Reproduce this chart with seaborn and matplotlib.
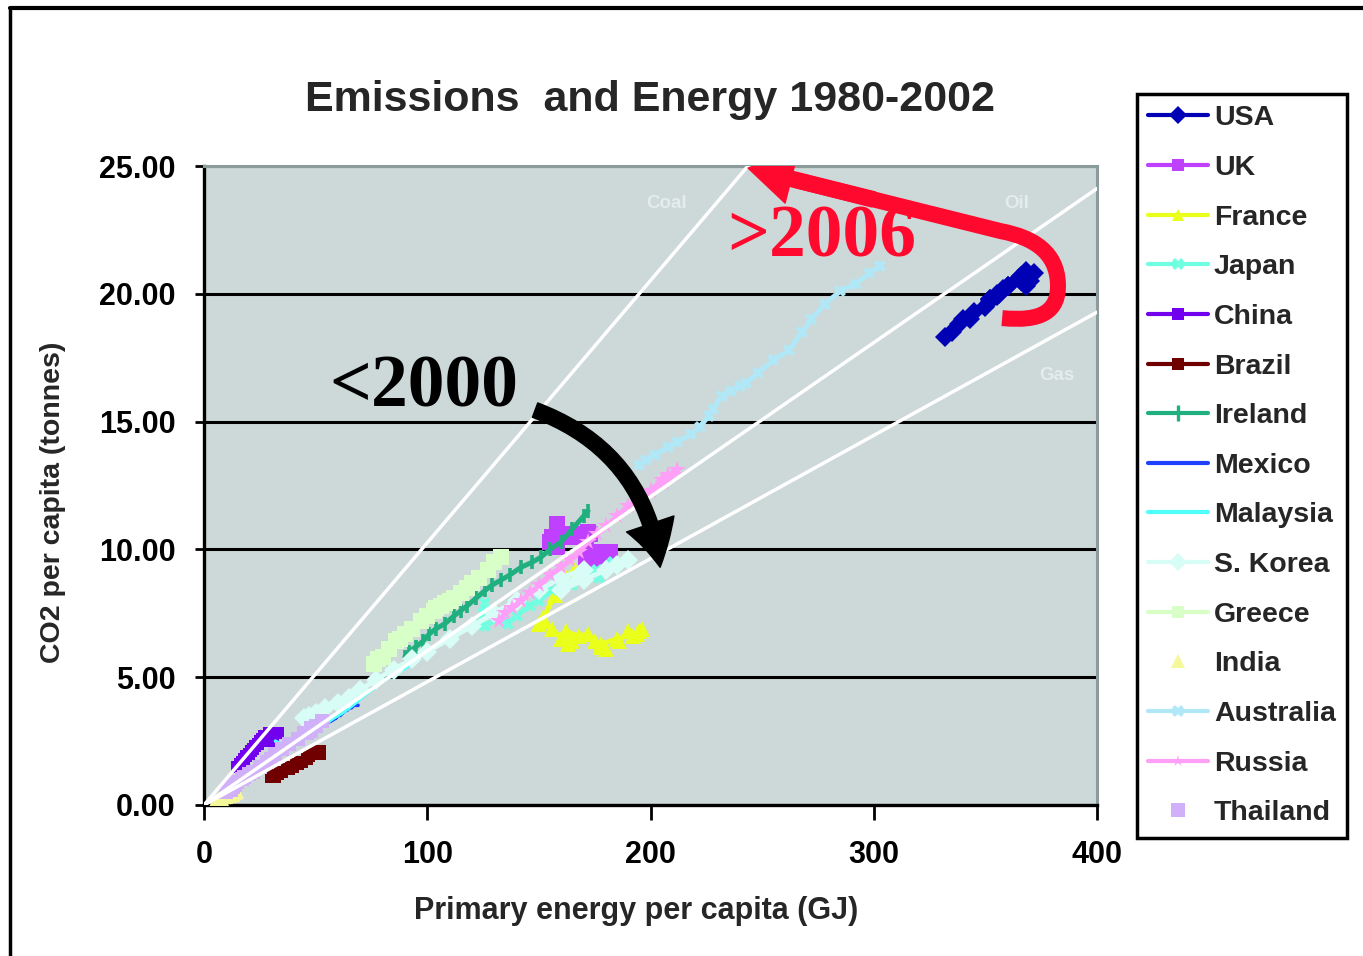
import matplotlib
matplotlib.use("Agg")
import matplotlib.pyplot as plt
import seaborn as sns
from matplotlib.patches import FancyArrowPatch, PathPatch
from matplotlib.path import Path
from matplotlib.lines import Line2D

# ---------------- data ----------------
countries = ["USA", "UK", "France", "Japan", "China", "Brazil", "Ireland", "Mexico",
             "Malaysia", "S. Korea", "Greece", "India", "Australia", "Russia", "Thailand"]

usa_x = [360, 352, 343, 335, 332, 338, 340, 345, 352, 356, 355, 350, 352, 355, 358, 360, 366, 368, 365, 366, 372, 368, 370]
usa_y = [20.3, 19.7, 19.0, 18.5, 18.3, 18.8, 19.0, 19.3, 19.8, 20.0, 19.9, 19.5, 19.8, 20.0, 20.2, 20.3, 20.7, 20.9, 20.6, 20.5, 20.8, 20.3, 20.5]

uk_x = [158, 156, 155, 157, 158, 163, 165, 166, 168, 170, 172, 173, 171, 172, 172, 171, 176, 174, 176, 178, 180, 182, 178]
uk_y = [11.0, 10.5, 10.3, 10.2, 10.1, 10.5, 10.6, 10.6, 10.5, 10.6, 10.7, 10.6, 10.2, 9.9, 9.8, 9.7, 9.9, 9.6, 9.7, 9.6, 9.8, 9.9, 9.5]

france_x = [166, 162, 157, 152, 150, 156, 160, 163, 165, 162, 168, 172, 175, 178, 180, 178, 185, 186, 190, 192, 194, 196, 195]
france_y = [9.2, 8.9, 8.2, 7.3, 7.1, 6.9, 6.5, 6.3, 6.4, 6.8, 6.6, 6.7, 6.4, 6.2, 6.1, 6.3, 6.5, 6.4, 6.8, 6.6, 6.7, 6.9, 6.8]

japan_x = [126, 125, 124, 126, 132, 135, 136, 140, 146, 150, 156, 160, 163, 165, 170, 173, 176, 178, 177, 179, 182, 184, 183]
japan_y = [7.9, 7.5, 7.1, 7.0, 7.3, 7.2, 7.1, 7.4, 7.8, 8.0, 8.4, 8.6, 8.7, 8.6, 9.0, 9.1, 9.2, 9.1, 8.9, 9.2, 9.4, 9.3, 9.5]

china_x = [15, 15, 16, 17, 18, 19, 20, 21, 22, 23, 23, 24, 25, 26, 27, 29, 30, 31, 30, 29, 30, 31, 33]
china_y = [1.5, 1.5, 1.6, 1.7, 1.8, 1.9, 2.0, 2.1, 2.2, 2.3, 2.3, 2.4, 2.5, 2.6, 2.7, 2.8, 2.8, 2.7, 2.6, 2.5, 2.6, 2.7, 2.8]

brazil_x = [31, 30, 30, 32, 33, 35, 37, 38, 39, 40, 40, 41, 42, 43, 44, 46, 47, 48, 49, 50, 51, 52, 52]
brazil_y = [1.3, 1.2, 1.1, 1.1, 1.2, 1.3, 1.4, 1.4, 1.5, 1.5, 1.5, 1.6, 1.6, 1.7, 1.7, 1.8, 1.9, 2.0, 2.0, 2.1, 2.1, 2.1, 2.0]

ireland_x = [90, 92, 95, 98, 101, 104, 108, 112, 115, 118, 122, 126, 129, 133, 137, 142, 147, 151, 155, 160, 165, 170, 172]
ireland_y = [5.8, 6.0, 6.2, 6.4, 6.7, 6.9, 7.1, 7.4, 7.6, 7.8, 8.1, 8.4, 8.6, 8.8, 9.0, 9.3, 9.5, 9.7, 10.0, 10.3, 10.8, 11.3, 11.5]

mexico_x = [55, 57, 59, 58, 57, 58, 57, 58, 59, 60, 61, 62, 62, 62, 63, 62, 63, 64, 65, 66, 67, 68, 69]
mexico_y = [3.2, 3.3, 3.4, 3.4, 3.3, 3.4, 3.3, 3.4, 3.4, 3.5, 3.5, 3.6, 3.6, 3.6, 3.7, 3.6, 3.7, 3.7, 3.8, 3.8, 3.9, 3.9, 3.9]

malaysia_x = [32, 34, 35, 37, 40, 43, 46, 49, 52, 55, 58, 62, 65, 68, 72, 75, 78, 81, 83, 86, 89, 91, 93]
malaysia_y = [2.5, 2.4, 2.2, 2.3, 2.5, 2.7, 2.9, 3.0, 3.1, 3.2, 3.4, 3.6, 3.8, 4.0, 4.3, 4.5, 4.7, 4.9, 5.0, 5.1, 5.3, 5.4, 5.5]

korea_x = [45, 47, 50, 54, 60, 65, 70, 77, 85, 93, 100, 110, 120, 130, 140, 150, 160, 170, 160, 170, 180, 185, 190]
korea_y = [3.4, 3.5, 3.6, 3.8, 4.0, 4.2, 4.5, 4.9, 5.3, 5.7, 6.0, 6.5, 7.0, 7.5, 8.0, 8.4, 8.9, 9.2, 8.4, 8.8, 9.2, 9.4, 9.6]

greece_x = [76, 78, 80, 83, 86, 88, 90, 93, 97, 100, 103, 104, 106, 108, 110, 112, 115, 118, 120, 123, 127, 130, 133]
greece_y = [5.5, 5.7, 5.8, 6.1, 6.4, 6.5, 6.7, 6.9, 7.2, 7.4, 7.6, 7.7, 7.8, 7.9, 8.0, 8.1, 8.3, 8.5, 8.7, 8.9, 9.2, 9.5, 9.7]

india_x = [5, 6, 6, 7, 7, 8, 8, 9, 9, 10, 10, 11, 11, 11, 12, 12, 13, 13, 13, 14, 14, 14, 15]
india_y = [0.2, 0.2, 0.2, 0.25, 0.25, 0.25, 0.3, 0.3, 0.3, 0.3, 0.35, 0.35, 0.35, 0.35, 0.4, 0.4, 0.4, 0.4, 0.4, 0.45, 0.45, 0.45, 0.5]

australia_x = [195, 198, 202, 208, 212, 218, 222, 226, 228, 232, 236, 240, 243, 248, 255, 262, 268, 272, 278, 285, 292, 298, 303]
australia_y = [13.3, 13.5, 13.7, 14.0, 14.2, 14.5, 14.8, 15.2, 15.5, 16.0, 16.2, 16.4, 16.5, 16.9, 17.4, 17.8, 18.5, 19.0, 19.6, 20.1, 20.4, 20.8, 21.1]

russia_x = [132, 135, 138, 142, 146, 150, 155, 160, 164, 168, 172, 176, 180, 185, 190, 195, 200, 205, 208, 212, 210, 206, 200]
russia_y = [7.2, 7.5, 7.7, 8.0, 8.3, 8.6, 9.0, 9.3, 9.6, 9.9, 10.3, 10.6, 10.9, 11.3, 11.7, 12.0, 12.3, 12.7, 12.9, 13.1, 12.9, 12.6, 12.3]

thailand_x = [10, 12, 13, 14, 15, 17, 18, 20, 22, 25, 28, 30, 32, 35, 38, 42, 45, 48, 46, 46, 48, 50, 53]
thailand_y = [0.5, 0.6, 0.7, 0.8, 0.9, 1.0, 1.1, 1.2, 1.3, 1.5, 1.7, 1.8, 2.0, 2.2, 2.4, 2.6, 2.8, 3.0, 2.8, 2.8, 2.9, 3.1, 3.3]

# reference emission-intensity lines (t CO2 per GJ)
fuel_names = ["Coal", "Oil", "Gas"]
fuel_slopes = [0.1026, 0.0603, 0.0482]
fuel_x = [0, 400]

x_ticks = [0, 100, 200, 300, 400]
y_ticks = [0, 5, 10, 15, 20, 25]

# ---------------- styles ----------------
series = {
    "USA": (usa_x, usa_y), "UK": (uk_x, uk_y), "France": (france_x, france_y),
    "Japan": (japan_x, japan_y), "China": (china_x, china_y), "Brazil": (brazil_x, brazil_y),
    "Ireland": (ireland_x, ireland_y), "Mexico": (mexico_x, mexico_y),
    "Malaysia": (malaysia_x, malaysia_y), "S. Korea": (korea_x, korea_y),
    "Greece": (greece_x, greece_y), "India": (india_x, india_y),
    "Australia": (australia_x, australia_y), "Russia": (russia_x, russia_y),
    "Thailand": (thailand_x, thailand_y),
}
colors = {
    "USA": "#0000b4", "UK": "#c040ff", "France": "#eaff1a", "Japan": "#70ffe0",
    "China": "#7000ee", "Brazil": "#700000", "Ireland": "#20b080", "Mexico": "#2040ff",
    "Malaysia": "#50ffff", "S. Korea": "#d8fcf6", "Greece": "#d8ffc8", "India": "#f5f898",
    "Australia": "#b0e8f8", "Russia": "#ffa0f8", "Thailand": "#d0b0f8",
}
markers = {
    "USA": "D", "UK": "s", "France": "^", "Japan": "X", "China": "s", "Brazil": "s",
    "Ireland": "|", "Mexico": None, "Malaysia": None, "S. Korea": "D", "Greece": "s",
    "India": "^", "Australia": "X", "Russia": "*", "Thailand": "s",
}
marker_sizes = {"UK": 12, "France": 11, "Greece": 12, "Russia": 13, "S. Korea": 10,
                "USA": 10}
marker_only = {"India", "Thailand"}
thin = {"Mexico", "Malaysia"}

sns.set_style("white")
plt.rcParams["font.family"] = ["Liberation Sans", "DejaVu Sans"]
plt.rcParams["font.weight"] = "bold"

W, H = 1363, 956
fig = plt.figure(figsize=(W / 100, H / 100), dpi=100)
fig.patch.set_facecolor("white")
ax = fig.add_axes([204 / W, 1 - 805 / H, (1097 - 204) / W, (805 - 166) / H])
ax.set_facecolor("#cdd8d8")

# data series
for c in countries:
    xs, ys = series[c]
    if c in marker_only:
        sns.scatterplot(x=xs, y=ys, ax=ax, color=colors[c], marker=markers[c], s=90,
                        edgecolor=colors[c], linewidth=0, zorder=3, legend=False)
    else:
        kw = dict(marker=markers[c]) if markers[c] else {}
        if markers[c] == "|":
            kw.update(markersize=10, markeredgewidth=2.6, markeredgecolor=colors[c])
        elif markers[c]:
            kw.update(markersize=marker_sizes.get(c, 9), markeredgewidth=0,
                      markeredgecolor=colors[c])
        sns.lineplot(x=xs, y=ys, ax=ax, sort=False, estimator=None, errorbar=None,
                     color=colors[c], lw=2.6 if c in thin else 3.6, zorder=3,
                     legend=False, **kw)

# fuel reference lines (white), drawn over the data
for name, slope in zip(fuel_names, fuel_slopes):
    sns.lineplot(x=fuel_x, y=[slope * v for v in fuel_x], ax=ax, color="white",
                 lw=2.5, zorder=4, legend=False, sort=False, estimator=None)

fuel_label_pos = {"Coal": (207, 23.55), "Oil": (364, 23.55), "Gas": (382, 16.8)}
for name in fuel_names:
    ax.text(*fuel_label_pos[name], name, color="#e4ecec", fontsize=13.5,
            fontweight="bold", ha="center", va="center", zorder=5)

# axes
ax.set_xlim(0, 400)
ax.set_ylim(0, 25)
ax.set_xticks(x_ticks)
ax.set_yticks(y_ticks)
ax.set_xticklabels([str(v) for v in x_ticks])
ax.set_yticklabels([f"{v:.2f}" for v in y_ticks])
ax.yaxis.grid(True, color="black", lw=2.2, zorder=1)
ax.xaxis.grid(False)
ax.set_axisbelow(True)
ax.tick_params(axis="y", direction="inout", length=13, width=2, pad=14,
               labelsize=22, colors="black")
ax.tick_params(axis="x", direction="out", length=11, width=2, pad=14,
               labelsize=22, colors="black")
ax.tick_params(axis="both", left=True, bottom=True)
for s in ["left", "bottom"]:
    ax.spines[s].set_color("black")
    ax.spines[s].set_linewidth(2.4)
for s in ["top", "right"]:
    ax.spines[s].set_color("#8c9c9c")
    ax.spines[s].set_linewidth(2.2)

ax.set_xlabel("Primary energy per capita (GJ)", fontsize=22, fontweight="bold")
ax.set_ylabel("CO2 per capita (tonnes)", fontsize=20.5, fontweight="bold")
ax.xaxis.set_label_coords((636 - 204) / 893, (805 - 896) / 639)
ax.yaxis.set_label_coords((66 - 204) / 893, (805 - 502) / 639)

fig.text(650 / W, 1 - 100 / H, "Emissions  and Energy 1980-2002", fontsize=31,
         fontweight="bold", ha="center", va="center")

# annotations
serif = ["Liberation Serif", "DejaVu Serif"]
ax.text(98.5, 16.3, "<2000", family=serif, fontsize=53, fontweight="bold",
        color="black", ha="center", va="center", zorder=6)
ax.text(276.5, 22.15, ">2006", family=serif, fontsize=53, fontweight="bold",
        color="#ff0a2e", ha="center", va="center", zorder=6)

black_arrow = FancyArrowPatch((148.3, 15.45), (204.3, 9.3),
                              connectionstyle="arc3,rad=-0.3",
                              arrowstyle="simple,head_length=1.6,head_width=1.8,tail_width=0.55",
                              mutation_scale=20, color="black", shrinkA=0, shrinkB=0, zorder=6)
ax.add_patch(black_arrow)

red = "#ff0a2e"
hook = Path([(357.5, 19.05), (375, 18.9), (383, 19.3), (382.5, 20.4),
             (382, 21.6), (372, 22.2), (357, 22.45), (266, 24.43)],
            [Path.MOVETO, Path.CURVE4, Path.CURVE4, Path.CURVE4,
             Path.CURVE4, Path.CURVE4, Path.CURVE4, Path.LINETO])
ax.add_patch(PathPatch(hook, fill=False, edgecolor=red, lw=11.5, capstyle="butt",
                       joinstyle="round", zorder=6))
red_head = FancyArrowPatch((300, 23.69), (243.7, 24.92),
                           arrowstyle="simple,head_length=1.6,head_width=1.8,tail_width=0.55",
                           mutation_scale=20, color=red, shrinkA=0, shrinkB=0, zorder=6)
ax.add_patch(red_head)

# legend
handles = []
for c in countries:
    if c in marker_only:
        h = Line2D([], [], ls="none", marker=markers[c], color=colors[c], markersize=10,
                   markeredgewidth=0)
    else:
        h = Line2D([], [], color=colors[c], lw=3, marker=markers[c] or "None",
                   markersize=11 if markers[c] == "|" else 9,
                   markeredgewidth=2.4 if markers[c] == "|" else 0,
                   markeredgecolor=colors[c])
    handles.append(h)
leg = ax.legend(handles, countries, loc="upper left",
                bbox_to_anchor=(1137 / W, 1 - 94 / H), bbox_transform=fig.transFigure,
                frameon=True, fancybox=False, framealpha=1, edgecolor="black",
                prop={"weight": "bold", "size": 20.5}, handlelength=2.1,
                handletextpad=0.2, labelspacing=0.83, borderpad=0.4, borderaxespad=0)
leg.get_frame().set_linewidth(2.5)

# outer frame of the original slide
fig.add_artist(Line2D([10 / W, 1], [1 - 8 / H, 1 - 8 / H], transform=fig.transFigure,
                      color="black", lw=3))
fig.add_artist(Line2D([10 / W, 10 / W], [0, 1 - 8 / H], transform=fig.transFigure,
                      color="black", lw=2.5))

fig.savefig("out.png", dpi=100, facecolor="white")
